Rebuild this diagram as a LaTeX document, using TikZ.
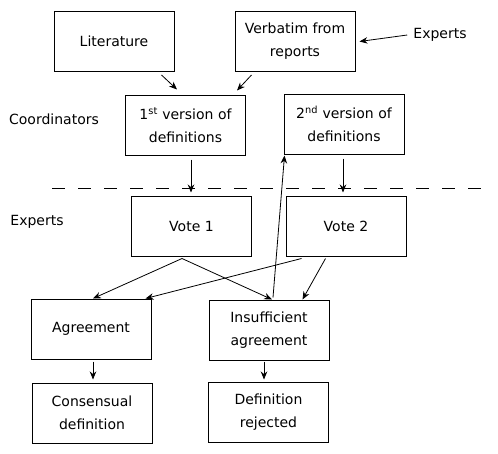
\documentclass[tikz,border=0pt]{standalone}
\usepackage{fontspec}
\setmainfont{DejaVu Sans}
\usetikzlibrary{arrows.meta}
\begin{document}
\begin{tikzpicture}[x=1pt,y=-1pt,
  box/.style={draw,line width=1pt,minimum width=120pt,minimum height=60pt,inner sep=0pt,align=center,font=\fontsize{14}{23}\selectfont},
  lbl/.style={inner sep=0pt,font=\fontsize{14}{23}\selectfont},
  arr/.style={line width=0.8pt,-{Stealth[length=8pt,width=6.5pt]}}]
\useasboundingbox (0,0) rectangle (498,453);
\node[box] (lit) at (114,41.5) {Literature};
\node[box] (verb) at (295,41.5) {Verbatim from\\reports};
\node[lbl] (expA) at (440,35) {Experts};
\node[box] (v1) at (185.5,125) {1\textsuperscript{st} version of\\definitions};
\node[box] (v2) at (344,124) {2\textsuperscript{nd} version of\\definitions};
\node[lbl] (coord) at (54,119) {Coordinators};
\node[lbl] (expB) at (37,222) {Experts};
\coordinate (dl) at (52,188);
\coordinate (dr) at (485,188);
\draw[line width=0.8pt,dash pattern=on 13pt off 13pt] (dl) -- (dr);
\node[box] (vote1) at (191.5,226) {Vote 1};
\node[box] (vote2) at (346,226) {Vote 2};
\node[box] (agr) at (91,329) {Agreement};
\node[box] (ins) at (269,330) {Insufficient\\agreement};
\node[box] (cons) at (92,413) {Consensual\\definition};
\node[box] (rej) at (268.5,412) {Definition\\rejected};
% arrows
\draw[arr] ([xshift=-6pt]expA.west) -- ([xshift=4pt]verb.east);
\draw[arr] ([xshift=-13pt,yshift=-3pt]lit.south east) -- ([xshift=52pt,yshift=5pt]v1.north west);
\draw[arr] ([xshift=17pt,yshift=-3pt]verb.south west) -- ([xshift=-9pt,yshift=4pt]v1.north east);
\draw[arr] ([xshift=5.5pt,yshift=-4pt]v1.south) -- ([xshift=-0.5pt,yshift=3pt]vote1.north);
\draw[arr] ([xshift=-1pt,yshift=-4pt]v2.south) -- ([xshift=-3pt,yshift=3pt]vote2.north);
\draw[arr] ([xshift=-9.5pt,yshift=-2pt]vote1.south) -- ([xshift=2pt]agr.north);
\draw[arr] ([xshift=-9.5pt,yshift=-2pt]vote1.south) -- ([xshift=3pt]ins.north);
\draw[arr] ([xshift=16pt,yshift=-2pt]vote2.south west) -- ([xshift=-6pt]agr.north east);
\draw[arr] ([xshift=40pt,yshift=-2pt]vote2.south west) -- ([xshift=-27pt]ins.north east);
\draw[arr] ([xshift=4pt,yshift=2pt]ins.north) -- ([xshift=1pt,yshift=-1pt]v2.south west);
\draw[arr] ([xshift=2pt,yshift=-2pt]agr.south) -- ([xshift=1pt,yshift=3pt]cons.north);
\draw[arr] ([xshift=-5pt,yshift=-1pt]ins.south) -- ([xshift=-4.5pt,yshift=2pt]rej.north);
\end{tikzpicture}
\end{document}
